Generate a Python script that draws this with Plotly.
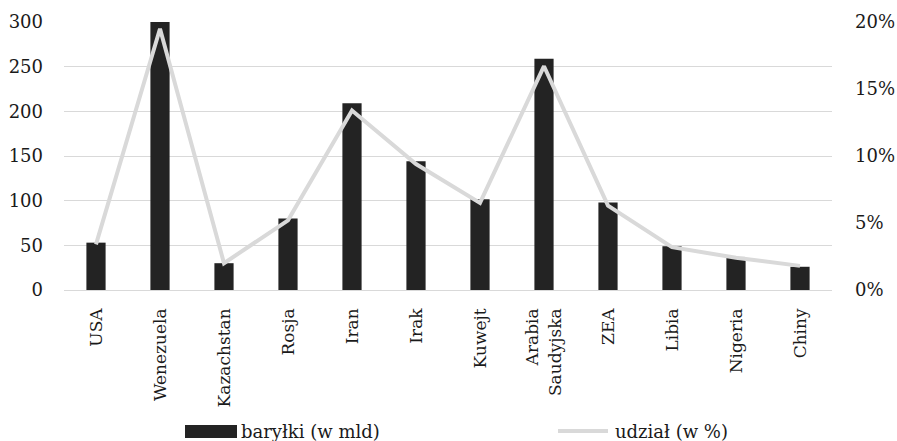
import plotly.graph_objects as go

# Oil reserves by country
countries = ["USA", "Wenezuela", "Kazachstan", "Rosja", "Iran", "Irak", "Kuwejt",
             "Arabia<br>Saudyjska", "ZEA", "Libia", "Nigeria", "Chiny"]
barrels_bn = [53, 300, 30, 80, 209, 144, 101.5, 259, 98, 49, 37, 26]
share_pct = [3.4, 19.5, 2.0, 5.2, 13.4, 9.4, 6.5, 16.7, 6.3, 3.2, 2.4, 1.8]

bar_name = "baryłki (w mld)"
line_name = "udział (w %)"

FONT = "DejaVu Serif"
BAR_COLOR = "#232323"
LINE_COLOR = "#d9d9d9"
TEXT_COLOR = "#1a1a1a"

fig = go.Figure()
fig.add_trace(go.Bar(x=countries, y=barrels_bn, name=bar_name,
                     marker=dict(color=BAR_COLOR, line=dict(width=0)),
                     showlegend=False))
fig.add_trace(go.Scatter(x=countries, y=[v / 100 for v in share_pct], name=line_name,
                         mode="lines", yaxis="y2",
                         line=dict(color=LINE_COLOR, width=4),
                         showlegend=False))

# Legend drawn as shapes + text below the axis labels
fig.add_shape(type="rect", xref="paper", yref="paper",
              x0=(185 - 64) / 768, x1=(237 - 64) / 768,
              y0=-(425 - 290) / 268, y1=-(438 - 290) / 268,
              fillcolor=BAR_COLOR, line=dict(width=0))
fig.add_annotation(xref="paper", yref="paper", x=(239 - 64) / 768, y=-(431 - 290) / 268,
                   text=bar_name, showarrow=False, xanchor="left", yanchor="middle",
                   font=dict(family=FONT, size=18, color=TEXT_COLOR))
fig.add_shape(type="line", xref="paper", yref="paper",
              x0=(558 - 64) / 768, x1=(608 - 64) / 768,
              y0=-(431 - 290) / 268, y1=-(431 - 290) / 268,
              line=dict(color=LINE_COLOR, width=4))
fig.add_annotation(xref="paper", yref="paper", x=(613 - 64) / 768, y=-(431 - 290) / 268,
                   text=line_name, showarrow=False, xanchor="left", yanchor="middle",
                   font=dict(family=FONT, size=18, color=TEXT_COLOR))

fig.update_layout(
    width=897, height=441,
    margin=dict(l=64, r=65, t=22, b=151),
    paper_bgcolor="white", plot_bgcolor="white",
    font=dict(family=FONT, size=18, color=TEXT_COLOR),
    bargap=0.7,
    xaxis=dict(tickangle=-90, showgrid=False, showline=False, ticks="",
               range=[-0.5, 11.5], tickfont=dict(family=FONT, size=17),
               ticklabelstandoff=14, automargin=False),
    yaxis=dict(range=[0, 300], dtick=50, showgrid=True, gridcolor=LINE_COLOR,
               gridwidth=1, zeroline=True, zerolinecolor=LINE_COLOR, zerolinewidth=1,
               showline=False, ticks="", ticklabelstandoff=20,
               tickfont=dict(family=FONT, size=18), automargin=False),
    yaxis2=dict(range=[0, 0.2], dtick=0.05, tickformat=".0%", overlaying="y",
                side="right", showgrid=False, zeroline=False, showline=False,
                ticks="", ticklabelstandoff=22, tickfont=dict(family=FONT, size=18),
                automargin=False),
)

fig.write_html("out.html")
